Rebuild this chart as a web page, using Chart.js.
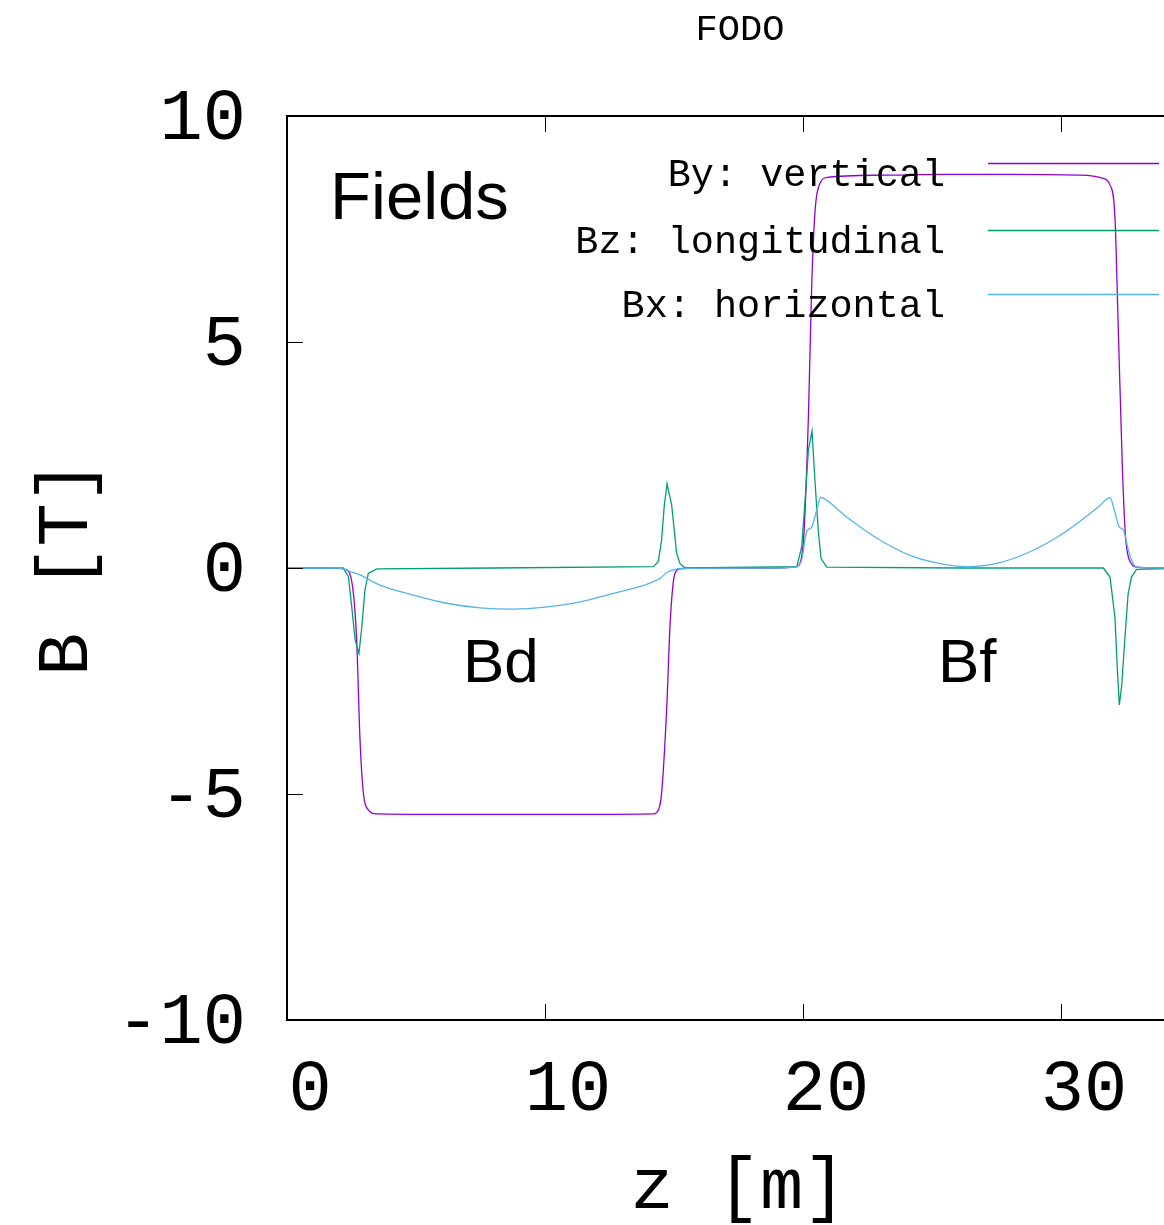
<!DOCTYPE html>
<html>
<head>
<meta charset="utf-8">
<script src="https://cdn.jsdelivr.net/npm/chart.js@4.4.1/dist/chart.umd.min.js"></script>
<style>
html,body{margin:0;padding:0;overflow:hidden;background:#fff;width:1164px;height:1225px}
#wrap{position:relative;width:1480px;height:1225px}
</style>
</head>
<body>
<div id="wrap"><canvas id="c" width="1480" height="1225"></canvas></div>
<script>
// ---- data ----
const chartTitle = "FODO";
const xLabel = "z [m]";
const yLabel = "B [T]";
const seriesNames = ["By: vertical", "Bz: longitudinal", "Bx: horizontal"];
const seriesColors = ["#9400D3", "#009E73", "#56B4E9"];

const zBy = [0, 1.5, 2.0, 2.25, 2.5, 2.7, 2.83, 2.96, 3.15, 3.47, 6.0, 9.0, 12.0, 14.2, 14.4, 14.52, 14.72, 14.85, 15.04, 15.23, 16.0, 19.0, 19.76, 20.01, 20.21, 20.34, 20.47, 20.66, 20.92, 23.0, 25.57, 28.0, 30.74, 31.64, 31.9, 32.09, 32.22, 32.38, 32.5, 32.7, 32.93, 34.0, 35.0];
const By  = [0, 0, -0.01, -0.03, -0.27, -1.6, -3.8, -4.98, -5.35, -5.44, -5.45, -5.45, -5.45, -5.44, -5.35, -4.98, -3.07, -1.22, -0.11, -0.02, 0, 0, 0.03, 0.55, 3.35, 6.3, 7.92, 8.51, 8.64, 8.69, 8.71, 8.71, 8.69, 8.62, 8.47, 7.77, 5.3, 2.2, 0.7, 0.12, 0.02, 0, 0];

const zBz = [0, 2.0, 2.18, 2.38, 2.51, 2.64, 2.79, 2.9, 3.02, 3.15, 3.48, 8.0, 14.2, 14.39, 14.52, 14.62, 14.73, 14.91, 15.01, 15.1, 15.23, 15.43, 19.76, 19.95, 20.08, 20.21, 20.35, 20.47, 20.6, 20.7, 20.92, 26.0, 31.64, 31.9, 32.09, 32.18, 32.26, 32.35, 32.45, 32.6, 32.73, 32.93, 35.0];
const Bz  = [0, 0, 0, -0.19, -0.86, -1.59, -1.89, -1.3, -0.49, -0.12, -0.02, 0, 0.03, 0.14, 0.62, 1.36, 1.86, 1.39, 0.84, 0.33, 0.1, 0, 0.03, 0.47, 1.5, 2.61, 3.03, 1.87, 0.77, 0.21, 0.02, 0, 0, -0.2, -1.09, -2.19, -3.03, -2.62, -1.77, -0.58, -0.2, -0.03, 0];

const zBx = [0, 2.0, 2.18, 2.44, 2.83, 3.22, 3.6, 4.9, 6.19, 7.48, 8.77, 10.07, 11.36, 12.65, 13.94, 14.33, 14.46, 14.72, 15.04, 15.36, 19.0, 19.76, 19.95, 20.14, 20.34, 20.53, 20.69, 20.81, 21.69, 22.98, 24.28, 25.57, 26.34, 27.5, 28.8, 30.09, 31.38, 31.77, 31.9, 32.03, 32.26, 32.42, 32.61, 32.8, 32.93, 35.0];
const Bx  = [0, 0, -0.02, -0.08, -0.15, -0.27, -0.38, -0.6, -0.78, -0.88, -0.91, -0.86, -0.75, -0.56, -0.36, -0.27, -0.23, -0.1, -0.03, -0.01, 0, 0.03, 0.18, 0.8, 0.91, 1.28, 1.56, 1.54, 1.13, 0.62, 0.25, 0.07, 0.03, 0.1, 0.36, 0.77, 1.32, 1.52, 1.56, 1.36, 0.91, 0.84, 0.4, 0.1, 0.02, 0];

const xTicksStep = 10;
const yTicksStep = 5;
const xRange = [0, 35];
const yRange = [-10, 10];

// text labels inside the plot (data coordinates)
const annotTexts = ["Fields", "Bd", "Bf"];
const annotZ = [1.67, 6.82, 25.23];
const annotB = [7.72, -2.52, -2.52];

// ---- build ----
const pts = (zs, bs) => zs.map((z, i) => ({x: z, y: bs[i]}));
const MONO = '"Liberation Mono", "DejaVu Sans Mono", monospace';

const framePlugin = {
  id: 'frame',
  afterDraw(chart) {
    const {ctx, chartArea: a, scales: {x, y}} = chart;
    ctx.save();
    ctx.strokeStyle = '#000';
    ctx.lineWidth = 1;
    const ln = (x1, y1, x2, y2) => { ctx.beginPath(); ctx.moveTo(x1, y1); ctx.lineTo(x2, y2); ctx.stroke(); };
    x.ticks.forEach(t => {
      const px = Math.round(x.getPixelForValue(t.value)) + 0.5;
      ln(px, a.bottom, px, a.bottom - 16);
      ln(px, a.top, px, a.top + 16);
    });
    y.ticks.forEach(t => {
      const py = Math.round(y.getPixelForValue(t.value)) + 0.5;
      ln(a.left, py, a.left + 16, py);
      ln(a.right, py, a.right - 16, py);
    });
    ctx.lineWidth = 2;
    ctx.strokeRect(a.left, a.top, a.right - a.left, a.bottom - a.top);

    // annotations
    ctx.fillStyle = '#000';
    ctx.textBaseline = 'alphabetic';
    ctx.textAlign = 'left';
    annotTexts.forEach((t, i) => {
      ctx.font = (i === 0 ? 67 : 62) + 'px "Liberation Sans", Arial, sans-serif';
      ctx.fillText(t, x.getPixelForValue(annotZ[i]), y.getPixelForValue(annotB[i]));
    });

    // legend
    const lx1 = a.right - 202, lx2 = a.right - 31, tx = a.right - 245;
    const ly = [a.top + 47, a.top + 114, a.top + 178];
    ctx.font = '38.5px ' + MONO;
    ctx.textAlign = 'right';
    ctx.textBaseline = 'middle';
    seriesNames.forEach((n, i) => {
      ctx.fillStyle = '#000';
      ctx.fillText(n, tx, ly[i] + 13);
      ctx.strokeStyle = seriesColors[i];
      ctx.lineWidth = 1.3;
      ln(lx1, ly[i] + 0.5, lx2, ly[i] + 0.5);
    });
    ctx.restore();
  }
};

const series = [zBy, zBz, zBx];
const values = [By, Bz, Bx];
const datasets = seriesNames.map((n, i) => ({
  label: n,
  data: pts(series[i], values[i]),
  borderColor: seriesColors[i],
  backgroundColor: seriesColors[i],
  borderWidth: 1.3,
  pointRadius: 0,
  tension: 0,
  cubicInterpolationMode: i === 1 ? 'default' : 'monotone',
  fill: false,
  order: 3 - i
}));

new Chart(document.getElementById('c'), {
  type: 'line',
  data: { datasets },
  options: {
    responsive: false,
    animation: false,
    devicePixelRatio: 1,
    layout: { padding: 0 },
    plugins: {
      legend: { display: false },
      tooltip: { enabled: false },
      title: {
        display: true, text: chartTitle, color: '#000',
        font: { family: MONO, size: 37, weight: 'normal', lineHeight: 1.2 },
        padding: { top: 8, bottom: 63.6 }
      }
    },
    scales: {
      x: {
        type: 'linear', min: xRange[0], max: xRange[1],
        grid: { display: false, drawTicks: false },
        border: { display: false },
        ticks: { stepSize: xTicksStep, includeBounds: false, color: '#000', padding: 28, labelOffset: 23,
                 font: { family: MONO, size: 72 }, maxRotation: 0 },
        title: { display: true, text: xLabel, color: '#000', font: { family: MONO, size: 72, lineHeight: 1 }, padding: { top: 0, bottom: 0 } },
        afterFit(s) { s.height = 205; }
      },
      y: {
        type: 'linear', min: yRange[0], max: yRange[1],
        grid: { display: false, drawTicks: false },
        border: { display: false },
        ticks: { stepSize: yTicksStep, color: '#000', padding: 41, labelOffset: 4, font: { family: MONO, size: 72 } },
        title: { display: true, text: yLabel, color: '#000', font: { family: MONO, size: 72, lineHeight: 1 }, padding: { top: 32, bottom: 0 } },
        afterFit(s) { s.width = 287; }
      },
      yRight: {
        type: 'linear', position: 'right', min: yRange[0], max: yRange[1],
        grid: { display: false, drawTicks: false },
        border: { display: false },
        ticks: { display: false },
        afterFit(s) { s.width = 290; }
      }
    }
  },
  plugins: [framePlugin]
});
</script>
</body>
</html>
